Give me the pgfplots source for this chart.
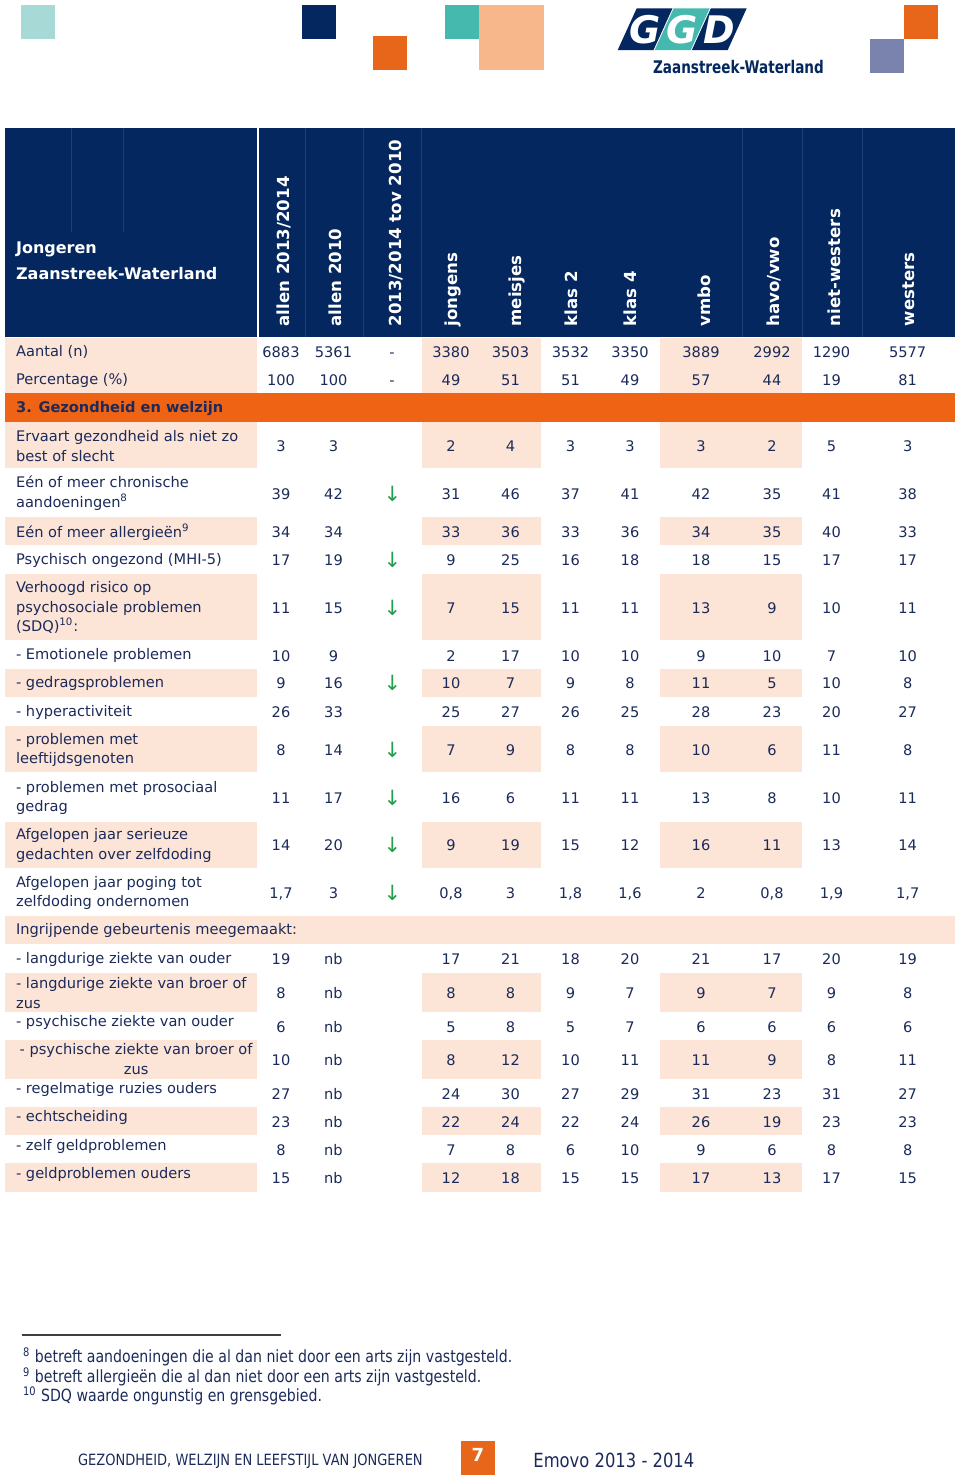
\documentclass[border=0pt]{standalone}
\usepackage{fontspec}
\setmainfont{DejaVu Sans}
\newfontfamily\narrowfont{DejaVu Sans}[FakeStretch=0.84]
\newfontfamily\logofont{DejaVu Sans}[FakeStretch=0.78]
\usepackage{pgfplots}
\pgfplotsset{compat=1.18}
\usepackage{pgfplotstable}

\definecolor{hdr}{HTML}{03275E}
\definecolor{hdrline}{HTML}{1E3F72}
\definecolor{txt}{HTML}{1B2A5A}
\definecolor{peach}{HTML}{FCE4D6}
\definecolor{band}{HTML}{EE6414}
\definecolor{arrowgreen}{HTML}{22A04C}
\definecolor{lteal}{HTML}{A7D9D7}
\definecolor{teal}{HTML}{45B9AE}
\definecolor{lpeach}{HTML}{F7B78A}
\definecolor{slate}{HTML}{7A82AE}
\definecolor{logoorange}{HTML}{E8661A}

% rows: y of the numbers; columns: allen 2013/2014 (a), allen 2010 (b), tov dash (t), tov arrow (d),
% jongens, meisjes, klas 2, klas 4, vmbo, havo/vwo, niet-westers, westers
\pgfplotstableread{
y a b t d j m kt kv vm hv nw w
352 6883 5361 - {} 3380 3503 3532 3350 3889 2992 1290 5577
380 100 100 - {} 49 51 51 49 57 44 19 81
445.7 3 3 {} {} 2 4 3 3 3 2 5 3
494 39 42 {} ↓ 31 46 37 41 42 35 41 38
532 34 34 {} {} 33 36 33 36 34 35 40 33
560 17 19 {} ↓ 9 25 16 18 18 15 17 17
607.7 11 15 {} ↓ 7 15 11 11 13 9 10 11
655.7 10 9 {} {} 2 17 10 10 9 10 7 10
683.3 9 16 {} ↓ 10 7 9 8 11 5 10 8
712 26 33 {} {} 25 27 26 25 28 23 20 27
750 8 14 {} ↓ 7 9 8 8 10 6 11 8
797.7 11 17 {} ↓ 16 6 11 11 13 8 10 11
845 14 20 {} ↓ 9 19 15 12 16 11 13 14
892.7 1,7 3 {} ↓ 0,8 3 1,8 1,6 2 0,8 1,9 1,7
959.3 19 nb {} {} 17 21 18 20 21 17 20 19
993.3 8 nb {} {} 8 8 9 7 9 7 9 8
1026.7 6 nb {} {} 5 8 5 7 6 6 6 6
1060 10 nb {} {} 8 12 10 11 11 9 8 11
1094 27 nb {} {} 24 30 27 29 31 23 31 27
1121.7 23 nb {} {} 22 24 22 24 26 19 23 23
1150 8 nb {} {} 7 8 6 10 9 6 8 8
1178.3 15 nb {} {} 12 18 15 15 17 13 17 15
}\data

\newcommand\col[2]{%
  \addplot[draw=none, mark=none, nodes near coords, point meta=explicit symbolic,
    every node near coord/.append style={anchor=center, inner sep=0pt,
      text height=5.3pt, text depth=0pt, text=txt,
      font=\fontsize{7.3}{9}\selectfont}]
    table[x expr=#1, y=y, meta=#2] {\data};}
\newcommand\peachrow[2]{%
  \fill[peach] (axis cs:5,#1) rectangle (axis cs:256.7,#2);
  \fill[peach] (axis cs:421.5,#1) rectangle (axis cs:541,#2);
  \fill[peach] (axis cs:660,#1) rectangle (axis cs:802,#2);}
\newcommand\hdrlab[2]{%
  \node[rotate=90, anchor=west, inner sep=0pt, text=white,
    font=\bfseries\fontsize{8.3}{10}\selectfont] at (axis cs:#1,326.7) {#2};}
\newcommand\hdrvline[3]{\draw[hdrline, line width=0.5pt] (axis cs:#1,#2) -- (axis cs:#1,#3);}

\begin{document}
\begin{tikzpicture}
\begin{axis}[
  name=ax,
  width=480pt, height=739pt, scale only axis,
  xmin=0, xmax=960, ymin=0, ymax=1478, y dir=reverse,
  clip=false, axis on top,
  axis line style={draw=none}, major tick length=0pt, tick style={draw=none},
  xtick=\empty,
  ytick={352,380,408.5,446,493.3,532,560,607.8,655.7,683.3,712,750,798,845.3,893,930.7,959,993,1022.7,1060.5,1089,1117,1146,1174},
  yticklabels={
    Aantal (n),
    Percentage (\%),
    \textbf{3. Gezondheid en welzijn},
    Ervaart gezondheid als niet zo\\best of slecht,
    Eén of meer chronische\\aandoeningen\textsuperscript{8},
    Eén of meer allergieën\textsuperscript{9},
    Psychisch ongezond (MHI-5),
    Verhoogd risico op\\psychosociale problemen\\(SDQ)\textsuperscript{10}:,
    - Emotionele problemen,
    - gedragsproblemen,
    - hyperactiviteit,
    - problemen met\\leeftijdsgenoten,
    - problemen met prosociaal\\gedrag,
    Afgelopen jaar serieuze\\gedachten over zelfdoding,
    Afgelopen jaar poging tot\\zelfdoding ondernomen,
    Ingrijpende gebeurtenis meegemaakt:,
    - langdurige ziekte van ouder,
    - langdurige ziekte van broer of\\zus,
    - psychische ziekte van ouder,
    {\hspace*{1.8pt}\begin{tabular}{@{}c@{}}- psychische ziekte van broer of\\zus\end{tabular}},
    - regelmatige ruzies ouders,
    - echtscheiding,
    - zelf geldproblemen,
    - geldproblemen ouders},
  yticklabel style={anchor=west, align=left, inner sep=0pt, xshift=7.85pt,
    font=\fontsize{7.3}{9.7}\selectfont, text=txt},
]
% decorative squares and logo
\fill[lteal] (axis cs:21.4,5) rectangle (axis cs:55,39);
\fill[hdr] (axis cs:301.7,5) rectangle (axis cs:336,39);
\fill[logoorange] (axis cs:373.3,36) rectangle (axis cs:407,70);
\fill[teal] (axis cs:445,5) rectangle (axis cs:479,39);
\fill[lpeach] (axis cs:479,5) rectangle (axis cs:543.5,70);
\fill[logoorange] (axis cs:904.3,5) rectangle (axis cs:938.3,39);
\fill[slate] (axis cs:870,39) rectangle (axis cs:904.3,73.3);
\fill[hdr] (axis cs:636.7,8.3) -- (axis cs:672.5,8.3) -- (axis cs:653.5,50) -- (axis cs:617.7,50) -- cycle;
\fill[teal] (axis cs:673.7,8.3) -- (axis cs:709.7,8.3) -- (axis cs:690.7,50) -- (axis cs:654.7,50) -- cycle;
\fill[hdr] (axis cs:710.9,8.3) -- (axis cs:746.7,8.3) -- (axis cs:727.7,50) -- (axis cs:691.9,50) -- cycle;
\node[text=white, inner sep=0pt, font=\bfseries\itshape\fontsize{19}{20}\selectfont] at (axis cs:645,29.5) {G};
\node[text=white, inner sep=0pt, font=\bfseries\itshape\fontsize{19}{20}\selectfont] at (axis cs:682,29.5) {G};
\node[text=white, inner sep=0pt, font=\bfseries\itshape\fontsize{19}{20}\selectfont] at (axis cs:719.3,29.5) {D};
\node[anchor=west, inner sep=0pt, text=hdr, font=\logofont\bfseries\fontsize{8.7}{10}\selectfont] at (axis cs:652.7,66.7) {Zaanstreek-Waterland};
% header
\fill[hdr] (axis cs:5,128) rectangle (axis cs:256.7,337);
\fill[hdr] (axis cs:258.7,128) rectangle (axis cs:955,337);
\hdrvline{305}{128}{337}
\hdrvline{363}{128}{337}
\hdrvline{421}{128}{337}
\hdrvline{742}{128}{337}
\hdrvline{802}{128}{337}
\hdrvline{862}{128}{337}
\hdrvline{71}{128}{232}
\hdrvline{123}{128}{232}
\node[anchor=west, align=left, inner sep=0pt, text=white, font=\bfseries\fontsize{8}{13}\selectfont] at (axis cs:15.7,261) {Jongeren\\Zaanstreek-Waterland};
\hdrlab{284.2}{allen 2013/2014}
\hdrlab{335.8}{allen 2010}
\hdrlab{395.8}{2013/2014 tov 2010}
\hdrlab{452.5}{jongens}
\hdrlab{517}{meisjes}
\hdrlab{571.7}{klas 2}
\hdrlab{630.8}{klas 4}
\hdrlab{704}{vmbo}
\hdrlab{774}{havo/vwo}
\hdrlab{834}{niet-westers}
\hdrlab{909}{westers}
% body shading
\peachrow{337.5}{393.3}
\fill[band] (axis cs:5,393.3) rectangle (axis cs:955,421.5);
\peachrow{422.3}{468.3}
\peachrow{516.7}{545}
\peachrow{574}{640}
\peachrow{669}{696.7}
\peachrow{725.7}{772.3}
\peachrow{821.7}{867.7}
\fill[peach] (axis cs:5,916) rectangle (axis cs:955,944.3);
\peachrow{972.7}{1011.7}
\peachrow{1040}{1079}
\peachrow{1107.3}{1135}
\peachrow{1163.3}{1191.7}
% values
\col{281}{a}
\col{333.5}{b}
\col{392}{t}
\addplot[draw=none, mark=none, nodes near coords, point meta=explicit symbolic,
    every node near coord/.append style={anchor=center, inner sep=0pt,
      text=arrowgreen, font=\fontsize{10.5}{12}\selectfont}]
    table[x expr=392.3, y=y, meta=d] {\data};
\col{451}{j}
\col{510.5}{m}
\col{570.5}{kt}
\col{630}{kv}
\col{701}{vm}
\col{772}{hv}
\col{831.5}{nw}
\col{907.7}{w}
% footnotes
\draw[line width=0.8pt, black!75] (axis cs:21.7,1335) -- (axis cs:281,1335);
\node[anchor=west, inner sep=0pt, text=txt, font=\narrowfont\fontsize{8.4}{10}\selectfont] at (axis cs:22.7,1356.7) {\textsuperscript{8} betreft aandoeningen die al dan niet door een arts zijn vastgesteld.};
\node[anchor=west, inner sep=0pt, text=txt, font=\narrowfont\fontsize{8.4}{10}\selectfont] at (axis cs:22.7,1376.7) {\textsuperscript{9} betreft allergieën die al dan niet door een arts zijn vastgesteld.};
\node[anchor=west, inner sep=0pt, text=txt, font=\narrowfont\fontsize{8.4}{10}\selectfont] at (axis cs:22.7,1396) {\textsuperscript{10} SDQ waarde ongunstig en grensgebied.};
% page footer
\node[anchor=west, inner sep=0pt, text=txt, font=\narrowfont\fontsize{7.75}{9}\selectfont] at (axis cs:77.7,1461) {GEZONDHEID, WELZIJN EN LEEFSTIJL VAN JONGEREN};
\fill[logoorange] (axis cs:461,1441) rectangle (axis cs:494.5,1474.5);
\node[inner sep=0pt, text=white, font=\bfseries\fontsize{9}{10}\selectfont] at (axis cs:478,1455) {7};
\node[anchor=west, inner sep=0pt, text=txt, font=\narrowfont\fontsize{9.75}{11}\selectfont] at (axis cs:533,1460) {Emovo 2013 - 2014};
\end{axis}
\pgfresetboundingbox
\path (ax.south west) rectangle (ax.north east);
\end{tikzpicture}
\end{document}
